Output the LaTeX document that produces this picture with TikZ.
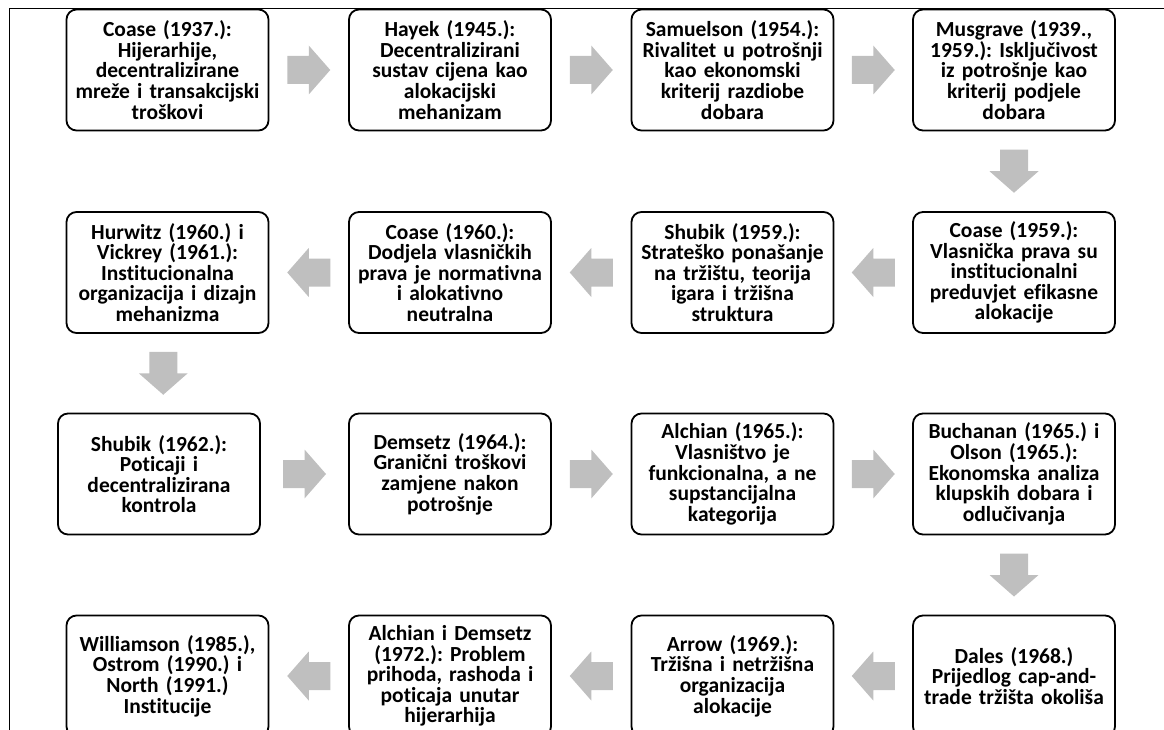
\documentclass[tikz,border=0pt]{standalone}
\usepackage{fontspec}
\setmainfont{Carlito}[Ligatures={NoCommon}]
\usepackage{tikz}
\usetikzlibrary{calc}
\definecolor{arrowgray}{RGB}{191,191,191}
\frenchspacing

\begin{document}
\begin{tikzpicture}[x=1pt, y=-1pt]
  \begin{scope}[box/.style={draw=black, line width=1.8pt, rounded corners=10pt, minimum width=202pt, minimum height=121pt, text width=198pt, align=center, inner sep=0pt, font=\fontsize{21.5}{20.6}\selectfont\bfseries},
    blockarr/.pic={\fill[arrowgray] (-21.5,-14) -- (0,-14) -- (0,-24.5) -- (21.5,0) -- (0,24.5) -- (0,14) -- (-21.5,14) -- cycle;}]
    \useasboundingbox (0,0) rectangle (1164,730);
    \draw[line width=1pt] (9,730) -- (9,9) -- (1164,9);
    % row 1
    \node[box] (coaseA) at (167.5,70) {Coase (1937.):\\Hijerarhije,\\decentralizirane\\mreže i transakcijski\\troškovi};
    \node[box] (hayek) at (450,70) {Hayek (1945.):\\Decentralizirani\\sustav cijena kao\\alokacijski\\mehanizam};
    \node[box] (samuelson) at (732.5,70) {Samuelson (1954.):\\Rivalitet u potrošnji\\kao ekonomski\\kriterij razdiobe\\dobara};
    \node[box] (musgrave) at (1014,70) {Musgrave (1939.,\\1959.): Isključivost\\iz potrošnje kao\\kriterij podjele\\dobara};
    % row 2
    \node[box] (coaseB) at (1014,272.5) {Coase (1959.):\\Vlasnička prava su\\institucionalni\\preduvjet efikasne\\alokacije};
    \node[box] (shubikA) at (732.5,272.5) {Shubik (1959.):\\Strateško ponašanje\\na tržištu, teorija\\igara i tržišna\\struktura};
    \node[box] (coaseC) at (450,272.5) {Coase (1960.):\\Dodjela vlasničkih\\prava je normativna\\i alokativno\\neutralna};
    \node[box] (hurwitz) at (167.5,272.5) {Hurwitz (1960.) i\\Vickrey (1961.):\\Institucionalna\\organizacija i dizajn\\mehanizma};
    % row 3
    \node[box] (shubikB) at (159,474) {Shubik (1962.):\\Poticaji i\\decentralizirana\\kontrola};
    \node[box] (demsetz) at (450,474) {Demsetz (1964.):\\Granični troškovi\\zamjene nakon\\potrošnje};
    \node[box] (alchian) at (732.5,474) {Alchian (1965.):\\Vlasništvo je\\funkcionalna, a ne\\supstancijalna\\kategorija};
    \node[box] (buchanan) at (1014,474) {Buchanan (1965.) i\\Olson (1965.):\\Ekonomska analiza\\klupskih dobara i\\odlučivanja};
    % row 4
    \node[box] (dales) at (1014,676) {Dales (1968.)\\Prijedlog cap-and-\\trade tržišta okoliša};
    \node[box] (arrow) at (732.5,676) {Arrow (1969.):\\Tržišna i netržišna\\organizacija\\alokacije};
    \node[box] (alchdem) at (450,676) {Alchian i Demsetz\\(1972.): Problem\\prihoda, rashoda i\\poticaja unutar\\hijerarhija};
    \node[box] (williamson) at (167.5,676) {Williamson (1985.),\\Ostrom (1990.) i\\North (1991.)\\Institucije};
    % block arrows
    \foreach \a/\b in {coaseA/hayek, hayek/samuelson, samuelson/musgrave, shubikB/demsetz, demsetz/alchian, alchian/buchanan}
      {\pic at ($(\a.east)!0.5!(\b.west)$) {blockarr};}
    \foreach \a/\b in {coaseB/shubikA, shubikA/coaseC, coaseC/hurwitz, dales/arrow, arrow/alchdem, alchdem/williamson}
      {\pic[rotate=180] at ($(\a.west)!0.5!(\b.east)$) {blockarr};}
    \foreach \a/\b in {musgrave/coaseB, hurwitz/shubikB, buchanan/dales}
      {\pic[rotate=-90] at ($(\a.south)!0.5!(\b.north)$) {blockarr};}
  \end{scope}
\end{tikzpicture}
\end{document}
